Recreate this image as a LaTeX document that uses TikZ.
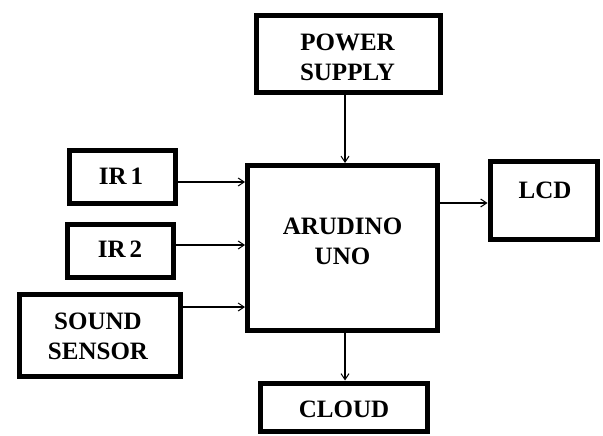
\documentclass[tikz,border=0pt]{standalone}
\usepackage{fontspec}
\setmainfont{Liberation Serif}
\usetikzlibrary{arrows.meta}
\begin{document}
\begin{tikzpicture}[x=1pt,y=1pt,
  boxx/.style={draw=black,line width=5pt,rectangle,inner sep=0pt,fill=white},
  lbl/.style={font=\fontsize{25}{30}\selectfont\bfseries,align=center,inner sep=0pt},
  arr/.style={line width=1.2pt,-{Straight Barb[length=6pt,width=8pt,line width=1pt]}}]
\useasboundingbox[fill=white] (0,0) rectangle (603,-436);
% boxes
\node[boxx,minimum width=184pt,minimum height=77pt] (power) at (348.5,-54) {};
\node[boxx,minimum width=190pt,minimum height=165pt] (ard) at (342.5,-248) {};
\node[boxx,minimum width=106pt,minimum height=53pt] (ir1) at (122,-176.5) {};
\node[boxx,minimum width=106pt,minimum height=53pt] (ir2) at (120,-250.5) {};
\node[boxx,minimum width=161pt,minimum height=82pt] (snd) at (99.5,-335) {};
\node[boxx,minimum width=107pt,minimum height=78pt] (lcd) at (543.5,-200) {};
\node[boxx,minimum width=167pt,minimum height=48pt] (cloud) at (343.5,-407) {};
% texts
\node[lbl] (tpower) at (347.5,-57) {POWER\\SUPPLY};
\node[lbl] (tard) at (342.5,-241.5) {ARUDINO\\UNO};
\node[lbl] (tir1) at (121,-176) {IR\,1};
\node[lbl] (tir2) at (120,-249) {IR\,2};
\node[lbl] (tsnd) at (98,-336.5) {SOUND\\SENSOR};
\node[lbl] (tlcd) at (545,-190.5) {LCD};
\node[lbl] (tcloud) at (344,-409) {CLOUD};
% connector guides
\coordinate (ax) at (345,0);
\coordinate (y1) at (0,-182);
\coordinate (y2) at (0,-245);
\coordinate (y3) at (0,-307);
\coordinate (y4) at (0,-203);
% connectors
\draw[arr] (power.south -| ax) -- (ard.north -| ax);
\draw[arr] (ard.south -| ax) -- (cloud.north -| ax);
\draw[arr] (ir1.east |- y1) -- (ard.west |- y1);
\draw[arr] (ir2.east |- y2) -- (ard.west |- y2);
\draw[arr] (snd.east |- y3) -- (ard.west |- y3);
\draw[arr] (ard.east |- y4) -- (lcd.west |- y4);
\end{tikzpicture}
\end{document}
